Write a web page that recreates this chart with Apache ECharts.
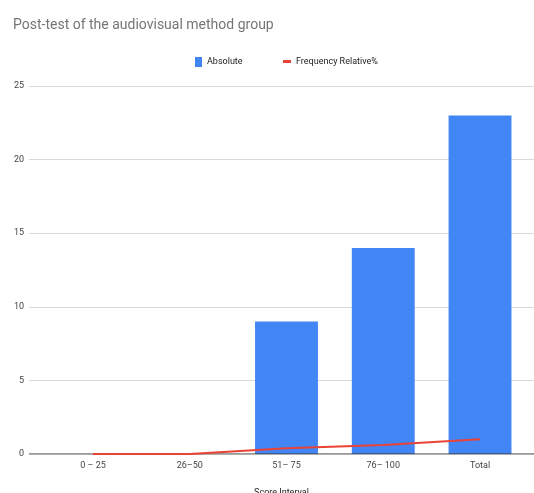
<!DOCTYPE html>
<html>
<head>
<meta charset="utf-8">
<style>
  html, body { margin: 0; padding: 0; background: #fff; }
  #chart { width: 534px; height: 493px; }
</style>
<script src="https://cdn.jsdelivr.net/npm/echarts@6/dist/echarts.min.js"></script>
</head>
<body>
<div id="chart"></div>
<script>
const titleText = "Post-test of the audiovisual method group";
const categories = ["0 – 25", "26–50", "51– 75", "76– 100", "Total"];
const absoluteValues = [0, 0, 9, 14, 23];
const relativeValues = [0, 0, 0.39, 0.61, 1];
const yTicks = [0, 5, 10, 15, 20, 25];
const xAxisName = "Score Interval";

const FONT = "Roboto, 'Liberation Sans', sans-serif";

const chart = echarts.init(document.getElementById('chart'), null, { renderer: 'canvas' });
chart.setOption({
  animation: false,
  backgroundColor: '#ffffff',
  textStyle: { fontFamily: FONT },
  title: {
    text: titleText,
    left: 8,
    top: 13,
    textStyle: { fontFamily: FONT, fontSize: 14, fontWeight: 'normal', color: '#757575' }
  },
  legend: [
    {
      top: 52, left: 190,
      itemWidth: 7, itemHeight: 10, itemGap: 6,
      textStyle: { fontFamily: FONT, fontSize: 9, color: '#222' },
      data: [{ name: 'Absolute', icon: 'rect' }]
    },
    {
      top: 52, left: 278,
      itemWidth: 8, itemHeight: 3, itemGap: 6,
      textStyle: { fontFamily: FONT, fontSize: 9, color: '#222' },
      data: [{ name: 'Frequency Relative%', icon: 'rect' }]
    }
  ],
  grid: [
    { left: 29, right: 0, top: 86, bottom: 39, containLabel: false, outerBoundsMode: 'none' },
    { left: 44.6, right: 5.6, top: 86, bottom: 39, containLabel: false, outerBoundsMode: 'none' }
  ],
  xAxis: [
    {
      gridIndex: 0, type: 'value', min: 0, max: 1,
      axisLine: { show: false }, axisTick: { show: false }, axisLabel: { show: false },
      splitLine: { show: false },
      name: xAxisName, nameLocation: 'middle', nameGap: 34,
      nameTextStyle: { fontFamily: FONT, fontSize: 9, color: '#222' }
    },
    {
      gridIndex: 1, type: 'category', data: categories,
      axisLine: { show: false }, axisTick: { show: false },
      axisLabel: { fontFamily: FONT, fontSize: 9, color: '#444', margin: 7 }
    }
  ],
  yAxis: [
    {
      gridIndex: 0, type: 'value', min: yTicks[0], max: yTicks[yTicks.length - 1], interval: 5,
      axisLine: { show: false }, axisTick: { show: false },
      axisLabel: { fontFamily: FONT, fontSize: 9, color: '#444', margin: 5 },
      splitLine: { lineStyle: { color: '#d9d9d9', width: 1 } }
    },
    {
      gridIndex: 1, type: 'value', min: yTicks[0], max: yTicks[yTicks.length - 1], interval: 5,
      axisLine: { show: false }, axisTick: { show: false }, axisLabel: { show: false },
      splitLine: { show: false }
    }
  ],
  series: [
    {
      name: 'Absolute', type: 'bar', xAxisIndex: 1, yAxisIndex: 1,
      data: absoluteValues, barWidth: '65%',
      itemStyle: { color: '#4285f4' }
    },
    {
      name: 'Frequency Relative%', type: 'line', xAxisIndex: 1, yAxisIndex: 1,
      data: relativeValues, showSymbol: false, symbol: 'none',
      lineStyle: { color: '#ea4335', width: 2 },
      itemStyle: { color: '#ea4335' },
      z: 5
    },
    {
      name: 'baseline', type: 'line', xAxisIndex: 0, yAxisIndex: 0,
      data: [[0, 0], [1, 0]], symbol: 'none', silent: true,
      lineStyle: { color: '#333333', width: 1 }, z: 4
    }
  ]
});
</script>
</body>
</html>
